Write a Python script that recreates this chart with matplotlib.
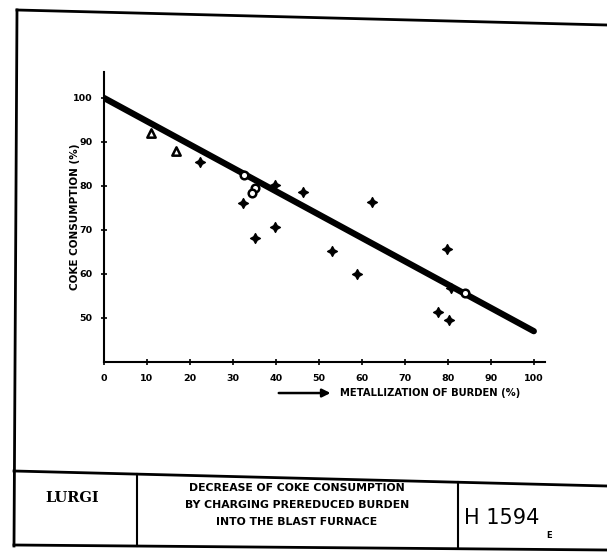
import numpy as np
import matplotlib.pyplot as plt

# Messpunkte
tri_x = [10.9, 16.7]
tri_y = [92.0, 88.0]

circ_x = [32.6, 35.2, 34.4, 84.0]
circ_y = [82.5, 79.6, 78.3, 55.6]

plus_x = [22.3, 32.3, 35.1, 39.8, 39.8, 46.4, 53.1, 58.9, 62.4, 77.8, 79.9, 80.2, 80.7]
plus_y = [85.5, 76.1, 68.1, 80.2, 70.6, 78.7, 65.3, 60.0, 76.3, 51.4, 65.6, 49.5, 56.8]

# Ausgleichsgerade
line_x = [0, 100]
line_y = [100, 47]

x_ticks = [0, 10, 20, 30, 40, 50, 60, 70, 80, 90, 100]
y_ticks = [50, 60, 70, 80, 90, 100]

title_lines = ["DECREASE OF COKE CONSUMPTION",
               "BY CHARGING PREREDUCED BURDEN",
               "INTO THE BLAST FURNACE"]

W, H = 607, 552
narrow = ['Liberation Sans Narrow', 'DejaVu Sans']

fig = plt.figure(figsize=(W / 100, H / 100), dpi=100)

# Rahmen und Schriftfeld (Pixelkoordinaten)
frame = fig.add_axes([0, 0, 1, 1])
frame.set_xlim(0, W)
frame.set_ylim(H, 0)
frame.axis('off')
lw_f = 2.0
frame.plot([17, 607], [10, 25], color='black', lw=lw_f)
frame.plot([17, 14], [10, 546], color='black', lw=lw_f)
frame.plot([14, 607], [471, 486], color='black', lw=lw_f)
frame.plot([14, 607], [545, 550], color='black', lw=lw_f)
frame.plot([137, 137], [474, 546], color='black', lw=1.5)
frame.plot([458, 458], [482, 548], color='black', lw=1.5)

frame.text(72, 498, "LURGI", ha='center', va='center', fontsize=10.5,
           fontweight='heavy', family='DejaVu Serif')
for i, t in enumerate(title_lines):
    frame.text(297, 488 + i * 17, t, ha='center', va='center', fontsize=7.8,
               fontweight='bold', family=narrow)
frame.text(502, 518, "H 1594", ha='center', va='center', fontsize=15,
           family='DejaVu Sans')
frame.text(549, 535, "E", ha='center', va='center', fontsize=6,
           fontweight='bold', family=narrow)

# Diagramm
ax = fig.add_axes([104 / W, 190 / H, 441 / W, 290 / H])
ax.set_xlim(0, 102.6)
ax.set_ylim(40, 105.9)
for s in ['top', 'right']:
    ax.spines[s].set_visible(False)
for s in ['left', 'bottom']:
    ax.spines[s].set_linewidth(1.5)

ax.plot(line_x, line_y, color='black', lw=4.5, solid_capstyle='round', zorder=2)
ax.scatter(plus_x, plus_y, marker=(4, 1, 0), s=50, color='black', zorder=3)
ax.scatter(tri_x, tri_y, marker='^', s=36, facecolor='white', edgecolor='black',
           linewidths=1.8, zorder=3)
ax.scatter(circ_x, circ_y, marker='o', s=30, facecolor='white', edgecolor='black',
           linewidths=1.8, zorder=3)

ax.set_xticks(x_ticks)
ax.set_yticks(y_ticks)
ax.tick_params(direction='inout', length=5, width=1.2, labelsize=6.8, pad=6)
for lab in ax.get_xticklabels() + ax.get_yticklabels():
    lab.set_fontweight('heavy')
    lab.set_family(narrow)

ax.set_ylabel("COKE CONSUMPTION (%)", fontsize=7.5, fontweight='bold', family=narrow)
ax.yaxis.set_label_coords(-0.054, 0.5)

ax.annotate("", xy=(0.52, -0.107), xytext=(0.39, -0.107), xycoords='axes fraction',
            arrowprops=dict(arrowstyle='-|>', color='black', lw=1.8, mutation_scale=12))
ax.text(0.535, -0.107, "METALLIZATION OF BURDEN (%)", transform=ax.transAxes,
        ha='left', va='center', fontsize=7.2, fontweight='bold', family=narrow)

fig.savefig("out.png", dpi=100)
